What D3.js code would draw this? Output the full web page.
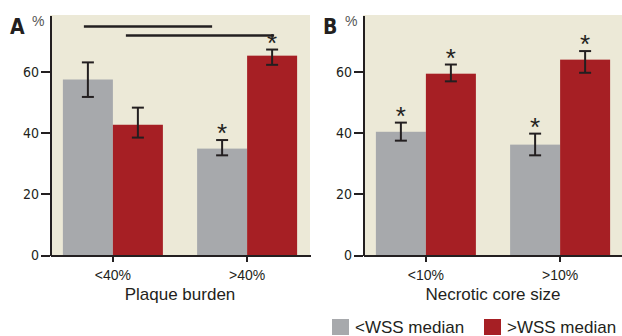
<!DOCTYPE html>
<html lang="en">
<head>
  <meta charset="UTF-8">
  <title>WSS median by plaque burden and necrotic core size</title>
  <script src="https://d3js.org/d3.v7.min.js"></script>
  <style>
    body { margin: 0; background: #fff; }
    svg { display: block; }
    .tick text { fill: #231f20; }
    .axis path, .axis line { stroke: #231f20; stroke-width: 2; shape-rendering: crispEdges; }
  </style>
</head>
<body>
  <svg id="chart" width="622" height="336"></svg>
  <script>
    // ---- data ----
    const series = ['<WSS median', '>WSS median'];
    const yTicks = [0, 20, 40, 60];

    const groupsA = ['<40%', '>40%'];
    const lowA  = [57.4, 34.8];   // <WSS median
    const highA = [42.6, 65.2];   // >WSS median
    const lowA_err  = [[51.7, 63.0], [32.6, 37.6]];
    const highA_err = [[38.4, 48.2], [62.2, 67.2]];
    const lowA_star  = [false, true];
    const highA_star = [false, true];
    const sigA = [   // bracket lines: [group, series] to [group, series], height in %
      { from: ['<40%', 0], to: ['>40%', 0], y: 74.7 },
      { from: ['<40%', 1], to: ['>40%', 1], y: 71.8 }
    ];

    const groupsB = ['<10%', '>10%'];
    const lowB  = [40.3, 36.1];
    const highB = [59.3, 63.9];
    const lowB_err  = [[37.4, 43.3], [32.6, 39.7]];
    const highB_err = [[56.8, 62.3], [59.6, 66.7]];
    const lowB_star  = [true, true];
    const highB_star = [true, true];

    const colors = ['#a7a9ac', '#a61f24'];
    const bg = '#ece9d7';
    const ink = '#231f20';
    const condensed = 'DejaVu Sans, sans-serif';

    const svg = d3.select('#chart');
    const y = d3.scaleLinear().domain([0, 78.5]).range([255, 15]);

    function panel(opts) {
      const g = svg.append('g');
      const x0 = d3.scaleBand().domain(opts.groups).range(opts.range)
        .paddingInner(0.255).paddingOuter(0.096);
      const x1 = d3.scaleBand().domain([0, 1]).range([0, x0.bandwidth()]);

      g.append('rect')
        .attr('x', opts.range[0]).attr('y', y.range()[1])
        .attr('width', opts.range[1] - opts.range[0])
        .attr('height', y.range()[0] - y.range()[1])
        .attr('fill', bg);

      const rows = [];
      opts.groups.forEach((grp, i) => {
        rows.push({ g: grp, s: 0, v: opts.low[i], e: opts.lowErr[i], star: opts.lowStar[i] });
        rows.push({ g: grp, s: 1, v: opts.high[i], e: opts.highErr[i], star: opts.highStar[i] });
      });
      const cx = d => x0(d.g) + x1(d.s) + x1.bandwidth() / 2;

      g.selectAll('.bar').data(rows).enter().append('rect')
        .attr('x', d => x0(d.g) + x1(d.s))
        .attr('y', d => y(d.v))
        .attr('width', x1.bandwidth())
        .attr('height', d => y(0) - y(d.v))
        .attr('fill', d => colors[d.s]);

      const eb = g.selectAll('.err').data(rows).enter().append('g')
        .attr('stroke', ink).attr('stroke-width', 2);
      eb.append('line').attr('x1', cx).attr('x2', cx)
        .attr('y1', d => y(d.e[0])).attr('y2', d => y(d.e[1]));
      eb.append('line').attr('x1', d => cx(d) - 6).attr('x2', d => cx(d) + 6)
        .attr('y1', d => y(d.e[0])).attr('y2', d => y(d.e[0]));
      eb.append('line').attr('x1', d => cx(d) - 6).attr('x2', d => cx(d) + 6)
        .attr('y1', d => y(d.e[1])).attr('y2', d => y(d.e[1]));

      g.selectAll('.star').data(rows.filter(d => d.star)).enter().append('text')
        .attr('x', cx).attr('y', d => y(d.e[1]) + 2)
        .attr('text-anchor', 'middle')
        .style('font-family', 'Liberation Sans, Arial, sans-serif')
        .style('font-size', '26px')
        .attr('fill', ink)
        .text('*');

      (opts.sig || []).forEach((s, i) => {
        const trim = [[-4, -10], [-12, 2]][i];
        g.append('line')
          .attr('x1', x0(s.from[0]) + x1(s.from[1]) + x1.bandwidth() / 2 + trim[0])
          .attr('x2', x0(s.to[0]) + x1(s.to[1]) + x1.bandwidth() / 2 + trim[1])
          .attr('y1', y(s.y)).attr('y2', y(s.y))
          .attr('stroke', ink).attr('stroke-width', 2.5);
      });

      const ya = g.append('g').attr('class', 'axis')
        .attr('transform', `translate(${opts.range[0]},0)`)
        .call(d3.axisLeft(y).tickValues(yTicks).tickSize(9).tickSizeOuter(0).tickPadding(2));
      ya.selectAll('text')
        .style('font-family', condensed)
        .style('font-stretch', 'condensed')
        .style('font-size', '14px');

      const xa = g.append('g').attr('class', 'axis')
        .attr('transform', `translate(0,${y(0)})`)
        .call(d3.axisBottom(x0).tickSize(7).tickSizeOuter(0).tickPadding(8));
      xa.selectAll('text')
        .style('font-family', 'Liberation Sans, Arial, sans-serif')
        .style('font-size', '14px');

      const mid = (opts.range[0] + opts.range[1]) / 2;
      g.append('text')
        .attr('x', mid).attr('y', 300)
        .attr('text-anchor', 'middle')
        .style('font-family', 'Liberation Sans, Arial, sans-serif')
        .style('font-size', '17px')
        .attr('fill', ink)
        .text(opts.title);

      g.append('text')
        .attr('x', opts.range[0] - 40).attr('y', 34)
        .style('font-family', condensed)
        .style('font-stretch', 'condensed')
        .style('font-weight', 'bold')
        .style('font-size', '21px')
        .attr('fill', ink)
        .text(opts.label);
      g.append('text')
        .attr('x', opts.range[0] - 18).attr('y', 26)
        .style('font-family', 'Liberation Sans, Arial, sans-serif')
        .style('font-size', '14px')
        .attr('fill', '#555')
        .text('%');
    }

    panel({ groups: groupsA, range: [50, 310], low: lowA, high: highA,
      lowErr: lowA_err, highErr: highA_err, lowStar: lowA_star, highStar: highA_star,
      sig: sigA, title: 'Plaque burden', label: 'A' });

    panel({ groups: groupsB, range: [363, 623], low: lowB, high: highB,
      lowErr: lowB_err, highErr: highB_err, lowStar: lowB_star, highStar: highB_star,
      title: 'Necrotic core size', label: 'B' });

    // legend
    const legX = [332, 484];
    const leg = svg.selectAll('.leg').data(series).enter().append('g')
      .attr('transform', (d, i) => `translate(${legX[i]},319)`);
    leg.append('rect').attr('width', 17).attr('height', 16).attr('fill', (d, i) => colors[i]);
    leg.append('text')
      .attr('x', 23).attr('y', 14)
      .style('font-family', 'Liberation Sans, Arial, sans-serif')
      .style('font-size', '17px')
      .attr('fill', ink)
      .text(d => d);
  </script>
</body>
</html>
